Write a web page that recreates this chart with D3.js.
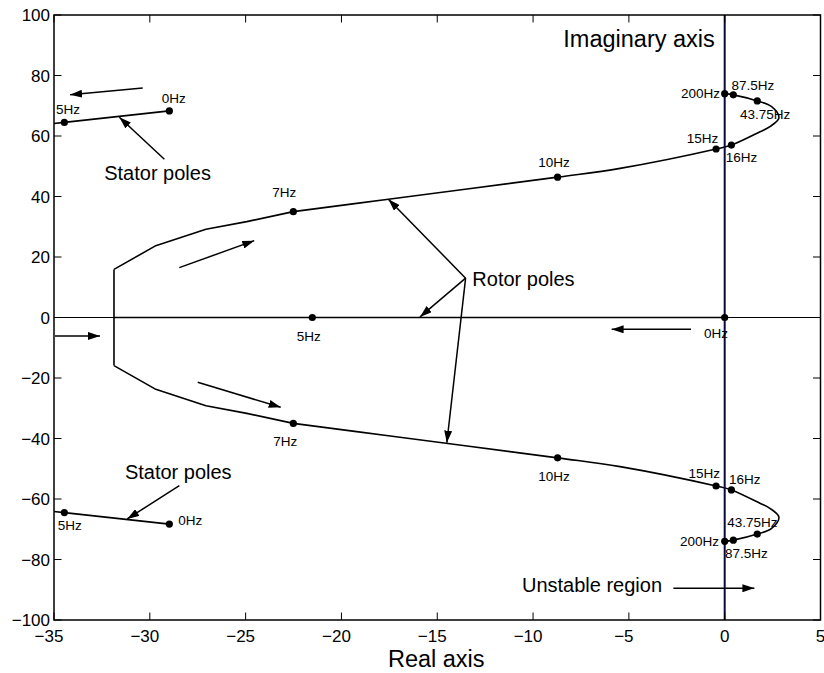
<!DOCTYPE html>
<html><head><meta charset="utf-8">
<script src="https://cdn.jsdelivr.net/npm/d3@7"></script>
<style>
body{margin:0;background:#fff;}
text{font-family:"Liberation Sans",Arial,Helvetica,sans-serif;fill:#000;}
</style></head>
<body><svg id="chart" width="824" height="673"></svg>
<script>
// ---- data ----
const xTicks = [-35,-30,-25,-20,-15,-10,-5,0,5];
const yTicks = [-100,-80,-60,-40,-20,0,20,40,60,80,100];
// upper rotor locus branch (lower one is its mirror): straight polyline part, then smooth part
const rotorUpperPoly = [[-31.87,15.9],[-29.73,23.6],[-27.07,29.2],[-24.94,31.7],[-22.51,35.0]];
const rotorUpperSmooth = [[-22.51,35.0],[-17.55,39.1],[-8.72,46.4],[-5.46,49.3],[-0.45,55.7],[0.35,57.0],[1.84,61.4],[2.36,63.1],[2.83,66.0],[2.45,69.7],[1.70,71.6],[0.45,73.6],[0.0,74.0]];
const rotorReal = [[-31.87,0],[0,0]];
const statorUpper = [[-35,64.13],[-34.46,64.5],[-28.98,68.3]];
const statorLower = [[-35,-64.13],[-34.46,-64.5],[-28.98,-68.3]];
// marked frequency points
const freqPoints = [
  [-34.46,64.5],[-28.98,68.3],[-34.46,-64.5],[-28.98,-68.3],
  [-21.52,0],[0,0],
  [-22.51,35.0],[-8.72,46.4],[-0.45,55.7],[0.35,57.0],[1.70,71.6],[0.45,73.6],[0,74.0],
  [-22.51,-35.0],[-8.72,-46.4],[-0.45,-55.7],[0.35,-57.0],[1.70,-71.6],[0.45,-73.6],[0,-74.0]
];
// frequency labels [text, x, y] (left/baseline anchored, data units)
const freqLabels = [
  ["0Hz",-29.38,70.9],["5Hz",-34.90,67.2],["5Hz",-34.81,-70.2],["0Hz",-28.51,-68.6],
  ["7Hz",-23.61,39.9],["7Hz",-23.56,-42.5],["5Hz",-22.33,-7.7],
  ["10Hz",-9.73,49.9],["10Hz",-9.73,-54.0],
  ["15Hz",-1.98,57.8],["16Hz",0.05,51.3],["200Hz",-2.28,72.5],["87.5Hz",0.36,75.2],["43.75Hz",0.80,65.5],
  ["0Hz",-1.08,-6.8],["15Hz",-1.89,-53.2],["16Hz",0.22,-55.0],["43.75Hz",0.13,-69.3],["200Hz",-2.33,-75.4],["87.5Hz",0.02,-79.6]
];
// annotation arrows [x1,y1,x2,y2] (head at x2,y2)
const arrows = [
  [-30.37,75.9,-34.16,73.6],
  [-29.24,52.3,-31.59,66.2],
  [-28.46,-55.6,-31.18,-66.6],
  [-34.95,-6.1,-32.6,-6.1],
  [-28.46,16.5,-24.55,25.4],
  [-27.5,-21.4,-23.17,-29.7],
  [-13.52,13.0,-17.55,39.1],
  [-13.52,13.0,-15.9,0.2],
  [-13.52,13.0,-14.5,-41.4],
  [-1.76,-3.9,-5.9,-3.9],
  [-2.68,-89.5,1.55,-89.5]
];
// annotation texts [text, x, y]
const notes = [
  ["Stator poles",-32.38,45.5],
  ["Stator poles",-31.30,-53.5],
  ["Rotor poles",-13.17,10.5],
  ["Unstable region",-10.58,-90.6]
];
const imagLabel = ["Imaginary axis",-8.42,89.5];
const xLabel = "Real axis";

// ---- drawing ----
const svg = d3.select("#chart");
const L=54,R=820.5,T=15,B=620;
const x = d3.scaleLinear().domain([-35,5]).range([L,R]);
const y = d3.scaleLinear().domain([-100,100]).range([B,T]);

svg.append("defs").append("marker")
  .attr("id","ah").attr("markerUnits","userSpaceOnUse")
  .attr("viewBox","0 0 12 8").attr("refX",12).attr("refY",4)
  .attr("markerWidth",12).attr("markerHeight",8).attr("orient","auto")
  .append("path").attr("d","M0,0 L12,4 L0,8 Z").attr("fill","#000");

const line = d3.line().x(d=>x(d[0])).y(d=>y(d[1]));
const smooth = d3.line().x(d=>x(d[0])).y(d=>y(d[1])).curve(d3.curveCatmullRom.alpha(0.5));
const mirror = arr => arr.map(d=>[d[0],-d[1]]);

// real axis line (thin)
svg.append("line").attr("x1",x(-35)).attr("x2",x(5)).attr("y1",y(0)).attr("y2",y(0))
  .attr("stroke","#000").attr("stroke-width",1);

// loci
const g = svg.append("g").attr("fill","none").attr("stroke","#000").attr("stroke-width",1.6)
  .attr("stroke-linejoin","round");
g.append("path").attr("d",line(rotorUpperPoly));
g.append("path").attr("d",line(mirror(rotorUpperPoly)));
g.append("path").attr("d",smooth(rotorUpperSmooth));
g.append("path").attr("d",smooth(mirror(rotorUpperSmooth)));
g.append("path").attr("d",line([rotorUpperPoly[0],mirror(rotorUpperPoly)[0]]));
g.append("path").attr("d",line(rotorReal));
g.append("path").attr("d",line(statorUpper));
g.append("path").attr("d",line(statorLower));

// imaginary axis
svg.append("line").attr("x1",x(0)).attr("x2",x(0)).attr("y1",y(100)).attr("y2",y(-100))
  .attr("stroke","#0a0a3c").attr("stroke-width",2);

// points
svg.append("g").selectAll("circle").data(freqPoints).join("circle")
  .attr("cx",d=>x(d[0])).attr("cy",d=>y(d[1])).attr("r",3.6).attr("fill","#000");

// freq labels
svg.append("g").selectAll("text").data(freqLabels).join("text")
  .attr("x",d=>x(d[1])).attr("y",d=>y(d[2])).attr("font-size","13.5px").text(d=>d[0]);

// arrows
svg.append("g").selectAll("line").data(arrows).join("line")
  .attr("x1",d=>x(d[0])).attr("y1",d=>y(d[1])).attr("x2",d=>x(d[2])).attr("y2",d=>y(d[3]))
  .attr("stroke","#000").attr("stroke-width",1.5).attr("marker-end","url(#ah)");

// notes
svg.append("g").selectAll("text").data(notes).join("text")
  .attr("x",d=>x(d[1])).attr("y",d=>y(d[2])).attr("font-size","20px").text(d=>d[0]);
svg.append("text").attr("x",x(imagLabel[1])).attr("y",y(imagLabel[2]))
  .attr("font-size","23.5px").text(imagLabel[0]);

// frame
svg.append("rect").attr("x",L).attr("y",T).attr("width",R-L).attr("height",B-T)
  .attr("fill","none").attr("stroke","#000").attr("stroke-width",1.5);

// ticks
const tl=7.5;
const tk = svg.append("g").attr("stroke","#000").attr("stroke-width",1);
xTicks.forEach(v=>{
  tk.append("line").attr("x1",x(v)).attr("x2",x(v)).attr("y1",B).attr("y2",B-tl);
  tk.append("line").attr("x1",x(v)).attr("x2",x(v)).attr("y1",T).attr("y2",T+tl);
});
yTicks.forEach(v=>{
  tk.append("line").attr("x1",L).attr("x2",L+tl).attr("y1",y(v)).attr("y2",y(v));
  tk.append("line").attr("x1",R).attr("x2",R-tl).attr("y1",y(v)).attr("y2",y(v));
});
const fmt = v => v<0 ? "\u2212"+Math.abs(v) : String(v);
svg.append("g").selectAll("text").data(xTicks).join("text")
  .attr("x",v=>x(v)-(v<0?5:0)).attr("y",B+22).attr("text-anchor","middle")
  .attr("font-size","17px").text(fmt);
svg.append("g").selectAll("text").data(yTicks).join("text")
  .attr("x",L-4).attr("y",v=>y(v)+6).attr("text-anchor","end")
  .attr("font-size","17px").text(fmt);

svg.append("text").attr("x",(L+R)/2 - 1).attr("y",667).attr("text-anchor","middle")
  .attr("font-size","23.5px").text(xLabel);
</script></body></html>
